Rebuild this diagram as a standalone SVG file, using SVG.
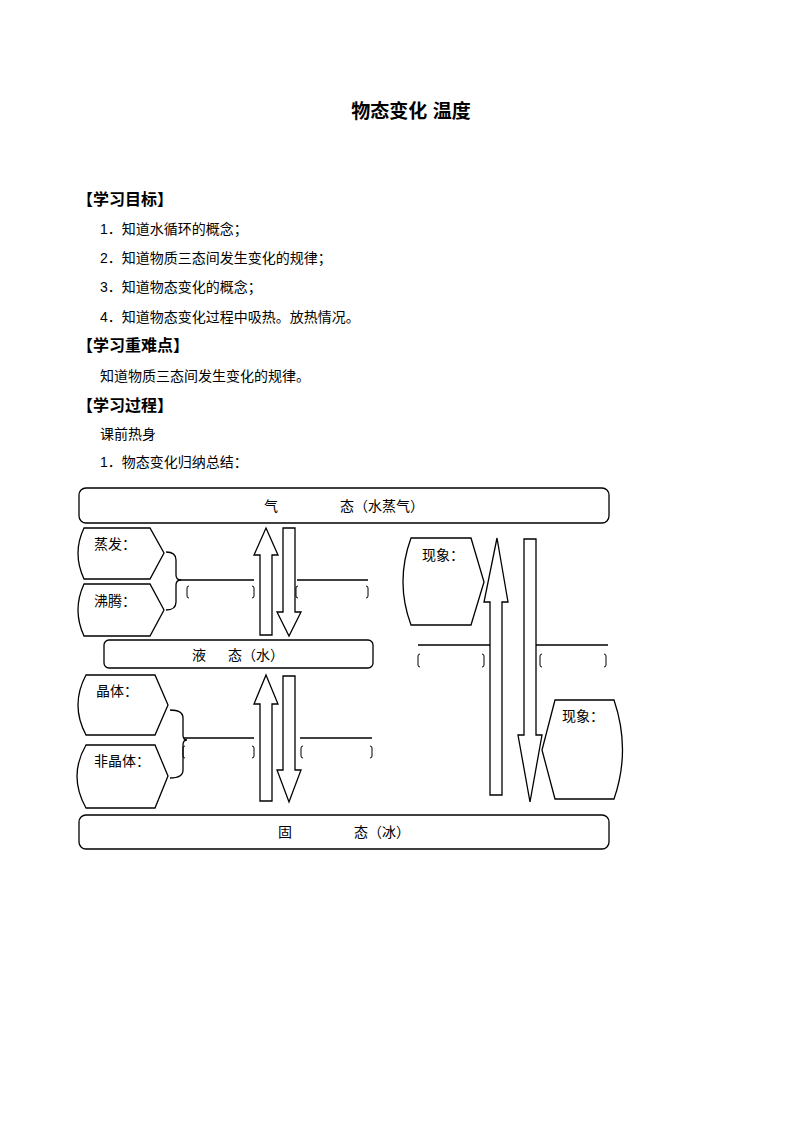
<svg xmlns="http://www.w3.org/2000/svg" width="793" height="1122" viewBox="0 0 793 1122">
<style>
text{font-family:"Liberation Sans","Noto Sans CJK SC",sans-serif;fill:#000}
.t{font-size:14px}
.h{font-size:16px;font-weight:bold}
.s{fill:#fff;stroke:#000;stroke-width:1.3}
.l{fill:none;stroke:#000;stroke-width:1.3}
.b{fill:none;stroke:#000;stroke-width:1}
</style>
<rect width="793" height="1122" fill="#fff"/>
<text x="411" y="118" font-size="19" font-weight="bold" text-anchor="middle">物态变化  温度</text>
<text class="h" x="77" y="205">【学习目标】</text>
<text class="t" x="100" y="234">1．知道水循环的概念；</text>
<text class="t" x="100" y="263">2．知道物质三态间发生变化的规律；</text>
<text class="t" x="100" y="292">3．知道物态变化的概念；</text>
<text class="t" x="100" y="322">4．知道物态变化过程中吸热。放热情况。</text>
<text class="h" x="77" y="351">【学习重难点】</text>
<text class="t" x="100" y="381">知道物质三态间发生变化的规律。</text>
<text class="h" x="77" y="411">【学习过程】</text>
<text class="t" x="100" y="439">课前热身</text>
<text class="t" x="100" y="467">1．物态变化归纳总结：</text>
<g id="gas"><rect class="s" x="79" y="488" width="530" height="35" rx="7"/><text class="t" x="264" y="511">气</text><text class="t" x="340" y="511">态（水蒸气）</text></g>
<g id="liquid"><rect class="s" x="104" y="640" width="269" height="28" rx="5"/><text class="t" x="192" y="660">液</text><text class="t" x="228" y="660">态（水）</text></g>
<g id="solid"><rect class="s" x="79" y="815" width="530" height="34" rx="7"/><text class="t" x="278" y="837">固</text><text class="t" x="354" y="837">态（冰）</text></g>
<g id="evap"><path class="s" d="M84,528 H150 L164,553 L150,579 H84 Q72,553 84,528Z"/><text class="t" x="94" y="549">蒸发：</text></g>
<g id="boil"><path class="s" d="M84,584 H150 L164,610 L150,636 H84 Q72,610 84,584Z"/><text class="t" x="94" y="606">沸腾：</text></g>
<g id="crystal"><path class="s" d="M86,675 H155 L168,705 L155,735 H86 Q70,705 86,675Z"/><text class="t" x="96" y="696">晶体：</text></g>
<g id="amorph"><path class="s" d="M86,745 H155 L168,776 L155,808 H86 Q68,776 86,745Z"/><text class="t" x="94" y="766">非晶体：</text></g>
<g id="phen1"><path class="s" d="M411,538 H471 L484,582 L471,625 H411 Q395,582 411,538Z"/><text class="t" x="422" y="560">现象：</text></g>
<g id="phen2"><path class="s" d="M555,700 H614 Q631,750 614,799 H555 L542,750Z"/><text class="t" x="562" y="721">现象：</text></g>
<g id="connectors">
<path class="s" d="M266,528 L278,555 H272 V635 H260 V555 H254Z"/>
<path class="s" d="M283,528 H295 V612 H301 L289,636 L277,612 H283Z"/>
<path class="s" d="M266,675 L278,704 H272 V801 H260 V704 H254Z"/>
<path class="s" d="M283,676 H295 V770 H301 L289,802 L277,770 H283Z"/>
<path class="s" d="M497,538 L508,602 H502 V795 H490 V602 H484Z"/>
<path class="s" d="M524,539 H536 V735 H542 L530,802 L518,735 H524Z"/>
<path class="l" d="M166,552 Q176,552 176,560 V575 Q176,580 181,580 Q176,580 176,585 V602 Q176,610 166,610"/>
<path class="l" d="M170,710 Q183,710 183,718 V735 Q183,740 187,740 Q183,740 183,745 V770 Q183,778 170,778"/>
<line class="l" x1="180" y1="580" x2="254" y2="580"/>
<line class="l" x1="297" y1="580" x2="368" y2="580"/>
<line class="l" x1="184" y1="738" x2="254" y2="738"/>
<line class="l" x1="300" y1="738" x2="372" y2="738"/>
<line class="l" x1="418" y1="645" x2="490" y2="645"/>
<line class="l" x1="536" y1="645" x2="608" y2="645"/>
<path class="b" d="M189,586 Q187,586 187,588 V596 Q187,598 189,598 M252,586 Q254,586 254,588 V596 Q254,598 252,598"/>
<path class="b" d="M298,586 Q296,586 296,588 V596 Q296,598 298,598 M366,586 Q368,586 368,588 V596 Q368,598 366,598"/>
<path class="b" d="M185,746 Q183,746 183,748 V756 Q183,758 185,758 M252,746 Q254,746 254,748 V756 Q254,758 252,758"/>
<path class="b" d="M303,746 Q301,746 301,748 V756 Q301,758 303,758 M370,746 Q372,746 372,748 V756 Q372,758 370,758"/>
<path class="b" d="M420,654 Q418,654 418,656 V665 Q418,667 420,667 M482,654 Q484,654 484,656 V665 Q484,667 482,667"/>
<path class="b" d="M542,654 Q540,654 540,656 V665 Q540,667 542,667 M604,654 Q606,654 606,656 V665 Q606,667 604,667"/>
</g>
</svg>
